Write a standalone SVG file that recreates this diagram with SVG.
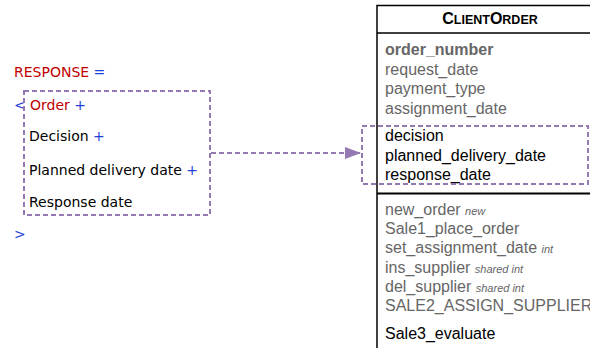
<svg xmlns="http://www.w3.org/2000/svg" width="590" height="348" viewBox="0 0 590 348">
<defs>
<style>
.l{font-family:"DejaVu Sans",Verdana,sans-serif;font-size:14px;fill:#000}
.red{fill:#c00000}
.blue{fill:#1f3fd6}
.c{font-family:"Liberation Sans",Arial,sans-serif;font-size:16px;fill:#666}
.k{fill:#000}
.i{font-style:italic;font-size:11px}
.d{fill:none;stroke:#9479b3;stroke-width:2;stroke-dasharray:5,3}
.ln{stroke:#000;stroke-width:1.5;fill:none}
</style>
<marker id="ah" markerWidth="16" markerHeight="12" refX="16" refY="6" orient="auto" markerUnits="userSpaceOnUse">
<path d="M0,0 L16,6 L0,12 Z" fill="#9479b3"/>
</marker>
</defs>
<g id="response">
<text class="l red" x="14" y="77">RESPONSE <tspan class="blue">=</tspan></text>
<text class="l blue" x="14" y="110">&lt;</text>
<text class="l red" x="30" y="110">Order <tspan class="blue">+</tspan></text>
<text class="l" x="29" y="141">Decision <tspan class="blue">+</tspan></text>
<text class="l" x="29" y="175">Planned delivery date <tspan class="blue">+</tspan></text>
<text class="l" x="29" y="207">Response date</text>
<text class="l blue" x="14" y="239">&gt;</text>
<rect id="grp-left" class="d" x="24" y="91" width="186" height="124"/>
</g>
<g id="clientorder">
<path class="ln" d="M377,348 V5.5 H590 M377,33 H590"/>
<path d="M377,193.5 H590" stroke="#000" stroke-width="2"/>
<text x="490" y="24" text-anchor="middle" font-family="Liberation Sans,Arial,sans-serif" font-weight="bold" font-size="16" fill="#000">C<tspan font-size="12.5">LIENT</tspan>O<tspan font-size="12.5">RDER</tspan></text>
<text class="c" x="385" y="55" font-weight="bold">order_number</text>
<text class="c" x="385" y="75">request_date</text>
<text class="c" x="385" y="94">payment_type</text>
<text class="c" x="385" y="114">assignment_date</text>
<text class="c k" x="385" y="141">decision</text>
<text class="c k" x="385" y="161">planned_delivery_date</text>
<text class="c k" x="385" y="180">response_date</text>
<text class="c" x="385" y="215">new_order <tspan class="i">new</tspan></text>
<text class="c" x="385" y="234">Sale1_place_order</text>
<text class="c" x="385" y="253">set_assignment_date <tspan class="i">int</tspan></text>
<text class="c" x="385" y="273">ins_supplier <tspan class="i">shared int</tspan></text>
<text class="c" x="385" y="292">del_supplier <tspan class="i">shared int</tspan></text>
<text class="c" x="385" y="311">SALE2_ASSIGN_SUPPLIER</text>
<text class="c k" x="385" y="339">Sale3_evaluate</text>
<rect id="grp-right" class="d" x="362" y="126" width="226" height="58"/>
</g>
<g id="connectors">
<path class="d" d="M211,153 H361" marker-end="url(#ah)"/>
</g>
</svg>
